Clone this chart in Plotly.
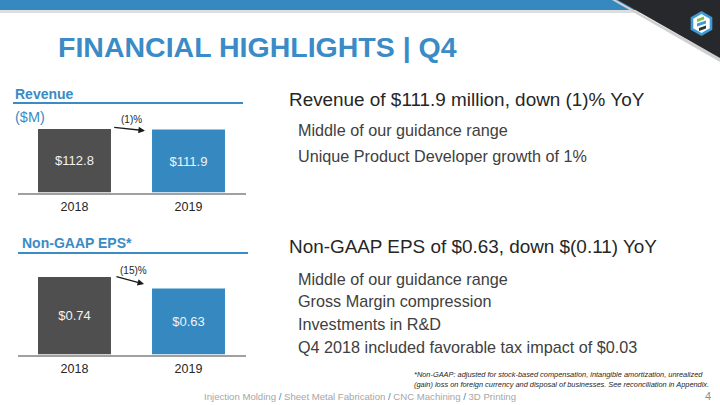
import plotly.graph_objects as go
import math

# ---------------- data ----------------
years = ["2018", "2019"]
revenue = [112.8, 111.9]          # $M
eps = [0.74, 0.63]                # Non-GAAP EPS $
rev_change_label = "(1)%"
eps_change_label = "(15)%"

rev_heading = "Revenue of $111.9 million, down (1)% YoY"
rev_bullets = ["Middle of our guidance range", "Unique Product Developer growth of 1%"]
eps_heading = "Non-GAAP EPS of $0.63, down $(0.11) YoY"
eps_bullets = ["Middle of our guidance range", "Gross Margin compression",
               "Investments in R&D", "Q4 2018 included favorable tax impact of $0.03"]
footnote = ["*Non-GAAP: adjusted for stock-based compensation, intangible amortization, unrealized",
            "(gain) loss on foreign currency and disposal of businesses. See reconciliation in Appendix."]
footer_items = ["Injection Molding", "Sheet Metal Fabrication", "CNC Machining", "3D Printing"]
page_no = "4"

# ---------------- style ----------------
W, H = 720, 405
BLUE = "#3589c0"
TBLUE = "#3a8bc6"
DARK = "#4f4f4f"
TXT = "#262626"
BODY = "#404040"
FONT = "Liberation Sans, Arial, sans-serif"

def xp(px):
    return px / W

def yp(py):
    return 1 - py / H

fig = go.Figure()

# Revenue bars
fig.add_trace(go.Bar(
    x=years, y=revenue, xaxis="x", yaxis="y",
    marker=dict(color=[DARK, BLUE], line=dict(width=0)), width=0.64,
    texttemplate="$%{y:.1f}", textposition="inside", insidetextanchor="middle",
    textfont=dict(color="#f2f2f2", size=13, family=FONT), hoverinfo="skip",
    cliponaxis=False,
))
# EPS bars
fig.add_trace(go.Bar(
    x=years, y=eps, xaxis="x2", yaxis="y2",
    marker=dict(color=[DARK, BLUE], line=dict(width=0)), width=0.64,
    texttemplate="$%{y:.2f}", textposition="inside", insidetextanchor="middle",
    textfont=dict(color="#f2f2f2", size=13, family=FONT), hoverinfo="skip",
    cliponaxis=False,
))

# axis geometry (pixels)
x_left, x_right = 17.5, 245.5
rev_base, rev_top = 192.5, 100.0
eps_base, eps_top = 354.5, 262.0
rev_range = [0, revenue[0] * (rev_base - rev_top) / 63.4]
eps_range = [0, eps[0] * (eps_base - eps_top) / 77.5]

xaxis_common = dict(
    type="category", range=[-0.5, 1.5], showgrid=False, zeroline=False,
    showline=True, linecolor="#a0a0a0", linewidth=2, ticks="",
    tickfont=dict(size=12.5, color=TXT, family=FONT), ticklabelstandoff=1,
    fixedrange=True,
)
yaxis_common = dict(visible=False, showgrid=False, zeroline=False, fixedrange=True)

fig.update_layout(
    xaxis=dict(domain=[xp(x_left), xp(x_right)], anchor="y", **xaxis_common),
    yaxis=dict(domain=[yp(rev_base), yp(rev_top)], anchor="x", range=rev_range, **yaxis_common),
    xaxis2=dict(domain=[xp(x_left), xp(x_right)], anchor="y2", **xaxis_common),
    yaxis2=dict(domain=[yp(eps_base), yp(eps_top)], anchor="x2", range=eps_range, **yaxis_common),
)

shapes = []
annotations = []

# top banner
shapes.append(dict(type="rect", xref="paper", yref="paper", x0=0, x1=1, y0=yp(13), y1=yp(10),
                   fillcolor="#dedede", line=dict(width=0), layer="above"))
shapes.append(dict(type="rect", xref="paper", yref="paper", x0=0, x1=1, y0=yp(10), y1=1,
                   fillcolor=BLUE, line=dict(width=0), layer="above"))
# shadow along the diagonal
shapes.append(dict(type="path", xref="paper", yref="paper",
                   path=f"M {xp(616)},{yp(0)} L {xp(720)},{yp(58)} L {xp(720)},{yp(62)} L {xp(612)},{yp(0)} Z",
                   fillcolor="#d0d0d0", line=dict(width=0), layer="above"))
shapes.append(dict(type="path", xref="paper", yref="paper",
                   path=f"M {xp(618)},{yp(0)} L {xp(720)},{yp(0)} L {xp(720)},{yp(58)} Z",
                   fillcolor="#27282c", line=dict(width=0), layer="above"))

# logo hexagon
def hexpath(cx, cy, r):
    pts = []
    for k in range(6):
        a = math.radians(90 + 60 * k)
        pts.append((cx + r * math.cos(a), cy - r * math.sin(a)))
    return "M " + " L ".join(f"{xp(px)},{yp(py)}" for px, py in pts) + " Z"

def polypath(pts):
    return "M " + " L ".join(f"{xp(px)},{yp(py)}" for px, py in pts) + " Z"

cx, cy = 701.5, 23.5
shapes.append(dict(type="path", xref="paper", yref="paper", path=hexpath(cx, cy, 12.5),
                   fillcolor="#3d9ad6", line=dict(width=0), layer="above"))
shapes.append(dict(type="path", xref="paper", yref="paper", path=hexpath(cx, cy, 9.5),
                   fillcolor="#ffffff", line=dict(width=0), layer="above"))
shapes.append(dict(type="path", xref="paper", yref="paper",
                   path=polypath([(697, 19), (704, 16.5), (704, 19.5), (697, 22)]),
                   fillcolor="#7dc242", line=dict(width=0), layer="above"))
shapes.append(dict(type="path", xref="paper", yref="paper",
                   path=polypath([(697, 23.5), (706, 20.5), (706, 23.5), (697, 26.5)]),
                   fillcolor="#3d9ad6", line=dict(width=0), layer="above"))
shapes.append(dict(type="path", xref="paper", yref="paper",
                   path=polypath([(699, 28), (706, 25.5), (706, 28.5), (699, 31)]),
                   fillcolor="#333333", line=dict(width=0), layer="above"))

# title
annotations.append(dict(xref="paper", yref="paper", x=xp(56), y=yp(47), xanchor="left", yanchor="middle",
                        text="<b>FINANCIAL HIGHLIGHTS | Q4</b>", showarrow=False,
                        font=dict(family=FONT, size=28.5, color=TBLUE)))

# chart headers
annotations.append(dict(xref="paper", yref="paper", x=xp(13), y=yp(94), xanchor="left", yanchor="middle",
                        text="<b>Revenue</b>", showarrow=False, font=dict(family=FONT, size=14, color=TBLUE)))
shapes.append(dict(type="line", xref="paper", yref="paper", x0=xp(13), x1=xp(243), y0=yp(103), y1=yp(103),
                   line=dict(color=TBLUE, width=2)))
annotations.append(dict(xref="paper", yref="paper", x=xp(13), y=yp(117), xanchor="left", yanchor="middle",
                        text="($M)", showarrow=False, font=dict(family=FONT, size=14.5, color=TBLUE)))
annotations.append(dict(xref="paper", yref="paper", x=xp(20), y=yp(242.5), xanchor="left", yanchor="middle",
                        text="<b>Non-GAAP EPS*</b>", showarrow=False, font=dict(family=FONT, size=14, color=TBLUE)))
shapes.append(dict(type="line", xref="paper", yref="paper", x0=xp(18), x1=xp(248), y0=yp(253), y1=yp(253),
                   line=dict(color=TBLUE, width=2)))

# change arrows (data coordinates)
annotations.append(dict(xref="x", yref="y", axref="x", ayref="y",
                        x=0.618, y=revenue[1] - 1.9, ax=0.335, ay=revenue[0] + 3.2,
                        text="", showarrow=True, arrowhead=2, arrowsize=1, arrowwidth=1.3,
                        arrowcolor="#1a1a1a", standoff=0, startstandoff=0))
annotations.append(dict(xref="x", yref="y", x=0.5, y=revenue[0] + 17.5, text=rev_change_label,
                        showarrow=False, font=dict(family=FONT, size=10, color=TXT)))
annotations.append(dict(xref="x2", yref="y2", axref="x2", ayref="y2",
                        x=0.61, y=eps[1] + 0.043, ax=0.355, ay=eps[0] + 0.0065,
                        text="", showarrow=True, arrowhead=2, arrowsize=1, arrowwidth=1.3,
                        arrowcolor="#1a1a1a", standoff=0, startstandoff=0))
annotations.append(dict(xref="x2", yref="y2", x=0.515, y=eps[0] + 0.06, text=eps_change_label,
                        showarrow=False, font=dict(family=FONT, size=10, color=TXT)))

# right-hand text
annotations.append(dict(xref="paper", yref="paper", x=xp(287), y=yp(99), xanchor="left", yanchor="middle",
                        text=rev_heading, showarrow=False, font=dict(family=FONT, size=18.9, color=TXT)))
for i, b in enumerate(rev_bullets):
    annotations.append(dict(xref="paper", yref="paper", x=xp(296), y=yp(130 + 26 * i), xanchor="left",
                            yanchor="middle", text=b, showarrow=False,
                            font=dict(family=FONT, size=16.2, color=BODY)))
annotations.append(dict(xref="paper", yref="paper", x=xp(287), y=yp(247), xanchor="left", yanchor="middle",
                        text=eps_heading, showarrow=False, font=dict(family=FONT, size=18.9, color=TXT)))
for i, b in enumerate(eps_bullets):
    annotations.append(dict(xref="paper", yref="paper", x=xp(296), y=yp(278.5 + 22.8 * i), xanchor="left",
                            yanchor="middle", text=b, showarrow=False,
                            font=dict(family=FONT, size=16.2, color=BODY)))

# footnote
for i, line in enumerate(footnote):
    annotations.append(dict(xref="paper", yref="paper", x=xp(412), y=yp(374 + 10 * i), xanchor="left",
                            yanchor="middle", text=f"<i>{line}</i>", showarrow=False,
                            font=dict(family=FONT, size=7.4, color="#262626")))

# footer
sep = ' <span style="color:#3589c0">/</span> '
annotations.append(dict(xref="paper", yref="paper", x=xp(360), y=yp(396), xanchor="center", yanchor="middle",
                        text=sep.join(footer_items), showarrow=False,
                        font=dict(family=FONT, size=9.6, color="#a6a6a6")))
annotations.append(dict(xref="paper", yref="paper", x=xp(708), y=yp(396), xanchor="center", yanchor="middle",
                        text=page_no, showarrow=False, font=dict(family=FONT, size=11, color="#8c8c8c")))

fig.update_layout(
    width=W, height=H, margin=dict(l=0, r=0, t=0, b=0),
    paper_bgcolor="white", plot_bgcolor="rgba(0,0,0,0)",
    showlegend=False, bargap=0.36,
    shapes=shapes, annotations=annotations,
    font=dict(family=FONT),
)

fig.write_html("out.html", config={"displayModeBar": False, "staticPlot": True},
               post_script="document.body.style.margin='0';document.body.style.overflow='hidden';")
